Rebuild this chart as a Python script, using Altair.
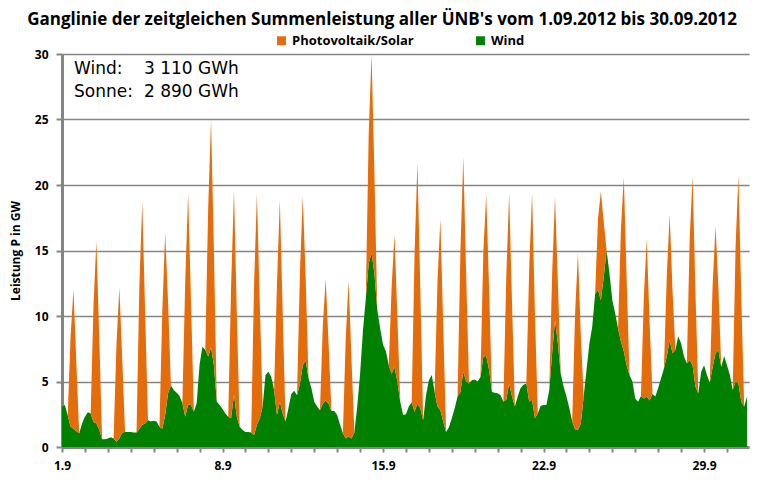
import altair as alt
import pandas as pd

# ---------------- data ----------------
series_names = ["Photovoltaik/Solar", "Wind"]
series_colors = ["#E46C0A", "#008000"]

days = list(range(1, 31))                 # 1.9.2012 ... 30.9.2012
hours = [0, 3, 6, 9, 12, 15, 18, 21]      # sampling hours of each day

# wind power in GW, one row per day, at the hours above
wind_gw = [
    [3.1, 3.2, 2.4, 1.55, 1.4, 1.2, 1.05, 1.8],
    [2.3, 2.65, 2.55, 1.9, 1.8, 1.3, 0.6, 0.6],
    [0.65, 0.75, 0.65, 0.4, 0.65, 1.1, 1.15, 1.15],
    [1.15, 1.1, 1.1, 1.4, 1.7, 1.8, 2.05, 1.95],
    [2.0, 1.95, 1.55, 1.4, 2.45, 4.1, 4.7, 4.35],
    [4.15, 3.9, 3.35, 2.3, 3.25, 3.2, 2.7, 3.35],
    [6.3, 7.65, 7.4, 6.9, 7.6, 6.25, 3.45, 3.2],
    [2.9, 2.55, 2.3, 2.2, 4.0, 2.3, 1.55, 1.3],
    [1.15, 1.15, 1.1, 0.9, 1.7, 2.2, 3.1, 5.5],
    [5.75, 5.35, 4.35, 2.45, 3.45, 2.55, 1.95, 2.95],
    [4.05, 4.3, 3.95, 4.8, 6.25, 6.6, 5.25, 4.5],
    [3.45, 3.1, 2.8, 3.3, 3.55, 3.3, 2.75, 2.75],
    [2.45, 1.7, 1.05, 0.65, 0.8, 0.65, 1.1, 3.1],
    [5.6, 8.9, 11.35, 14.0, 14.8, 13.25, 10.45, 9.05],
    [7.8, 7.3, 6.25, 5.6, 6.1, 5.0, 3.45, 2.45],
    [2.5, 3.1, 3.4, 2.7, 3.3, 2.95, 2.05, 3.95],
    [5.1, 5.5, 4.2, 3.1, 2.8, 1.95, 1.15, 1.5],
    [2.2, 2.95, 3.85, 4.2, 5.75, 5.0, 4.85, 5.1],
    [5.15, 5.0, 5.35, 6.9, 6.95, 5.9, 4.2, 4.15],
    [4.1, 3.95, 3.45, 3.6, 4.85, 3.85, 3.1, 3.85],
    [4.5, 4.75, 4.85, 3.45, 3.6, 2.2, 2.55, 3.15],
    [3.2, 3.2, 4.35, 7.15, 9.7, 7.9, 5.6, 4.6],
    [3.85, 2.95, 1.95, 1.35, 1.3, 1.8, 3.85, 5.9],
    [7.9, 9.2, 11.7, 12.0, 11.2, 13.0, 15.0, 13.25],
    [11.2, 10.2, 9.05, 8.05, 7.3, 6.25, 5.5, 5.0],
    [3.7, 3.45, 3.9, 3.7, 3.85, 3.55, 4.05, 3.85],
    [4.5, 5.25, 6.0, 6.9, 8.15, 7.15, 7.4, 8.45],
    [7.9, 6.9, 6.4, 6.65, 6.25, 4.6, 4.1, 5.75],
    [6.25, 5.5, 4.9, 6.1, 7.15, 7.4, 6.1, 6.95],
    [6.25, 5.5, 4.35, 5.0, 4.85, 3.45, 3.1, 3.85],
]

# solar power in GW at hours 9, 12, 15 of each day (zero at the other hours)
solar_hours = [9, 12, 15]
solar_gw = [
    [6.9, 10.6, 5.3], [9.0, 13.9, 7.0], [7.4, 11.5, 5.7], [11.0, 17.0, 8.5],
    [9.0, 13.9, 7.0], [10.4, 16.1, 8.0], [11.3, 17.4, 8.7], [10.1, 15.6, 7.8],
    [11.4, 17.6, 8.8], [10.0, 15.4, 7.7], [8.4, 12.9, 6.4], [6.0, 9.3, 4.6],
    [7.7, 11.9, 6.0], [9.9, 15.2, 7.6], [6.6, 10.1, 5.0], [12.0, 18.4, 9.2],
    [9.5, 14.6, 7.3], [10.7, 16.4, 8.2], [8.0, 12.3, 6.2], [9.4, 14.5, 7.2],
    [10.2, 15.8, 7.9], [6.1, 9.4, 4.7], [8.8, 13.5, 6.8], [5.4, 8.3, 4.2],
    [8.6, 13.3, 6.6], [7.8, 12.0, 6.0], [6.2, 9.6, 4.8], [9.3, 14.4, 7.2],
    [6.3, 9.7, 4.8], [10.3, 15.9, 7.9],
]

x_label_days = [1, 8, 15, 22, 29]
y_ticks = [0, 5, 10, 15, 20, 25, 30]

title_text = "Ganglinie der zeitgleichen Summenleistung aller ÜNB's vom 1.09.2012 bis 30.09.2012"
ann_names = ["Wind:", "Sonne:"]
ann_values = ["3 110 GWh", "2 890 GWh"]
y_title = "Leistung P in GW"

# ---------------- table ----------------
rows = []
for di, d in enumerate(days):
    for hi, h in enumerate(hours):
        t = d + h / 24.0
        s = solar_gw[di][solar_hours.index(h)] if h in solar_hours else 0.0
        rows.append({"t": t, "series": "Wind", "ord": 0, "value": wind_gw[di][hi]})
        rows.append({"t": t, "series": "Photovoltaik/Solar", "ord": 1, "value": s})
df = pd.DataFrame(rows)

FONT = "Open Sans, Roboto, sans-serif"
GRAY = "#858585"

label_expr = "indexof([" + ",".join(str(v) for v in x_label_days) + "], datum.value) >= 0 ? datum.value + '.9' : ''"

areas = alt.Chart(df).mark_area(clip=True, interpolate="linear").encode(
    x=alt.X("t:Q",
            scale=alt.Scale(domain=[1, 30.96], nice=False, zero=False),
            axis=alt.Axis(values=days, labelExpr=label_expr, title=None, grid=False,
                          tickSize=5, tickWidth=2, tickColor=GRAY,
                          domainColor=GRAY, domainWidth=3,
                          labelFont=FONT, labelFontWeight="bold", labelFontSize=12,
                          labelColor="black", labelPadding=8, labelFlush=False)),
    y=alt.Y("value:Q", stack="zero",
            scale=alt.Scale(domain=[0, 30], nice=False),
            axis=alt.Axis(values=y_ticks, title=y_title, grid=True,
                          gridColor=GRAY, gridWidth=1.3,
                          tickSize=6, tickWidth=2, tickColor=GRAY,
                          domainColor=GRAY, domainWidth=3,
                          labelFont=FONT, labelFontWeight="bold", labelFontSize=12,
                          labelColor="black", labelPadding=8,
                          titleFont=FONT, titleFontWeight="bold", titleFontSize=12,
                          titleColor="black", titlePadding=12)),
    color=alt.Color("series:N",
                    scale=alt.Scale(domain=series_names, range=series_colors),
                    legend=alt.Legend(title=None, orient="none", legendX=213, legendY=-20,
                                      direction="horizontal", symbolType="square",
                                      symbolSize=80, symbolStrokeWidth=0,
                                      labelFont=FONT, labelFontWeight="bold",
                                      labelFontSize=13, labelColor="black",
                                      columnPadding=60, labelOffset=4)),
    order=alt.Order("ord:Q"),
)

one = pd.DataFrame({"a": [0]})
title_mark = alt.Chart(one).mark_text(
    align="center", baseline="alphabetic", font=FONT, fontSize=17, fontWeight="bold", color="black"
).encode(text=alt.value(title_text), x=alt.value(320), y=alt.value(-29))

ann_layers = []
for i, (nm, val) in enumerate(zip(ann_names, ann_values)):
    yb = 20 + i * 23
    ann_layers.append(alt.Chart(one).mark_text(
        align="left", baseline="alphabetic", font="DejaVu Sans", fontSize=17, color="black"
    ).encode(text=alt.value(nm), x=alt.value(12), y=alt.value(yb)))
    ann_layers.append(alt.Chart(one).mark_text(
        align="left", baseline="alphabetic", font="DejaVu Sans", fontSize=17, color="black"
    ).encode(text=alt.value(val), x=alt.value(82), y=alt.value(yb)))

chart = alt.layer(areas, title_mark, *ann_layers).properties(
    width=687, height=393,
    autosize=alt.AutoSizeParams(type="none"),
    padding={"left": 54, "top": 46, "right": 3, "bottom": 29},
    background="white",
).configure_view(stroke=None)

chart.save("out.html", embed_options={"renderer": "svg", "actions": False})
